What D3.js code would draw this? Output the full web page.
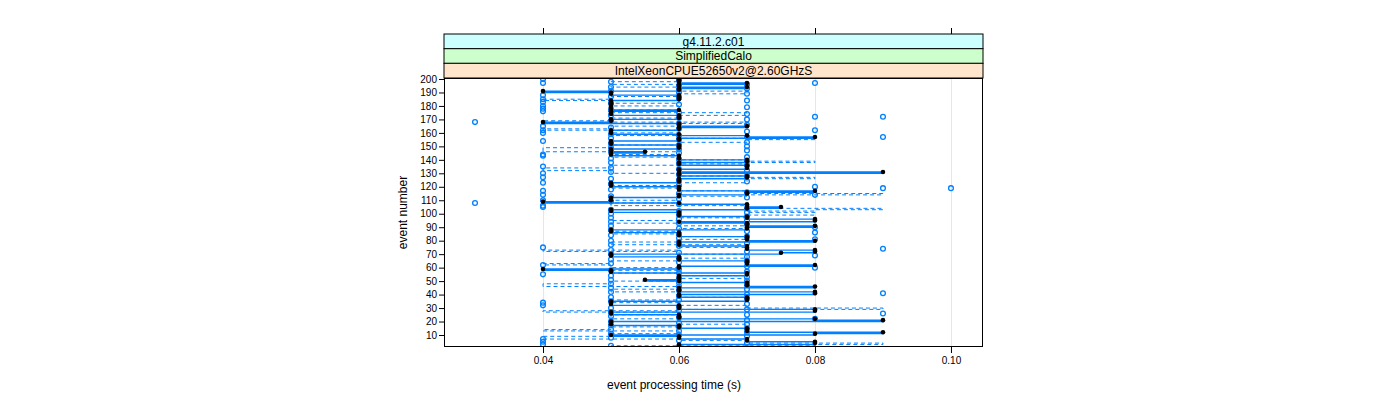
<!DOCTYPE html>
<html>
<head>
<meta charset="utf-8">
<script src="https://cdn.jsdelivr.net/npm/d3@7"></script>
<style>
  html, body { margin: 0; padding: 0; background: #ffffff; }
  svg { display: block; font-family: "Liberation Sans", Arial, sans-serif; }
</style>
</head>
<body>
<svg id="chart" width="1400" height="400"></svg>
<script>
// ---------------- data (times in milliseconds, index = event number - 1) ----------------
const stripLabels = ["g4.11.2.c01", "SimplifiedCalo", "IntelXeonCPUE52650v2@2.60GHzS"];
const xTicks = [0.04, 0.06, 0.08, 0.10];
const yTicks = [10,20,30,40,50,60,70,80,90,100,110,120,130,140,150,160,170,180,190,200];

// series drawn with solid step line and black filled points
const solidMs = [
  60,60,60,80,80,70,70,60,60,50,
  80,90,70,70,70,60,60,50,50,50,
  90,80,60,60,60,50,50,80,80,60,
  60,60,50,50,50,70,70,70,60,60,
  80,80,60,60,60,80,70,70,70,60,
  55,60,60,60,70,70,50,50,40,60,
  60,80,70,70,70,60,60,60,50,50,
  75,80,80,70,70,70,60,60,60,80,
  70,70,70,60,60,60,50,50,70,70,
  80,70,70,60,80,80,70,70,60,60,
  60,50,50,70,75,70,70,60,40,50,
  50,50,60,60,70,70,80,60,60,60,
  50,50,50,60,60,60,70,70,60,60,
  90,60,60,70,70,70,60,60,70,70,
  60,60,60,50,50,55,50,50,60,60,
  60,50,50,50,60,60,80,70,60,50,
  50,50,60,60,70,60,60,40,50,50,
  60,60,60,50,50,50,60,50,50,50,
  50,50,50,50,60,60,60,60,50,50,
  40,60,60,70,60,60,70,60,60,60
];

// series drawn with dashed step line
const dashedMs = [
  50,50,80,90,70,70,60,40,40,50,
  50,60,60,40,50,50,60,60,70,70,
  60,60,50,50,50,60,60,40,60,90,
  70,70,60,60,50,50,60,60,70,70,
  60,60,50,50,60,60,40,40,50,50,
  60,60,70,70,60,60,50,50,60,60,
  50,50,40,50,50,60,60,70,70,70,
  60,60,40,60,60,70,70,50,50,60,
  60,70,70,60,60,50,50,60,60,70,
  70,60,60,50,50,60,60,70,70,80,
  80,70,80,90,70,70,50,50,60,60,
  50,50,60,70,90,70,70,60,60,50,
  50,60,60,70,70,70,80,70,60,60,
  50,50,40,40,50,50,60,70,80,70,
  60,60,50,50,60,60,40,40,40,50,
  50,60,60,70,70,80,60,60,50,50,
  60,60,40,50,50,60,60,70,40,50,
  50,60,60,70,70,50,50,60,60,60,
  50,50,60,60,40,50,50,60,60,70,
  70,60,60,60,50,50,60,60,50,50
];

// series drawn as open circles only
const circleMs = [
  60,50,40,70,40,60,40,50,70,60,
  50,70,60,50,70,60,50,70,60,50,
  70,80,60,50,70,90,50,60,70,50,
  60,40,70,40,50,60,70,50,60,70,
  90,50,60,70,50,60,70,50,60,70,
  50,60,70,50,40,60,70,50,60,80,
  70,40,50,60,70,50,60,70,80,50,
  60,70,50,90,40,60,50,70,60,50,
  80,60,70,50,60,80,70,50,60,80,
  50,70,60,50,70,60,50,70,60,50,
  70,60,50,70,40,40,60,30,50,40,
  60,70,50,80,60,70,40,50,90,80,
  60,50,40,70,60,50,40,70,60,40,
  50,70,60,50,40,70,60,50,70,60,
  50,70,40,40,60,50,70,60,50,70,
  60,50,70,40,60,50,70,60,50,40,
  70,80,60,50,40,70,60,30,50,70,
  60,80,50,70,60,40,50,40,70,40,
  60,50,40,70,40,60,50,40,70,60,
  50,60,70,50,60,70,40,50,60,40
];

// additional isolated open circles
const extraEvents = [197, 172, 157, 119, 114, 162];
const extraMs     = [80,  90,  90,  100, 40,  40];

// ---------------- layout ----------------
const svg = d3.select("#chart");
const P = { left: 444, right: 983, top: 78, bottom: 347 };
const x = d3.scaleLinear().domain([0.02544, 0.10471]).range([P.left, P.right]);
const y = d3.scaleLinear().domain([1.09, 200.74]).range([P.bottom, P.top]);

const blue = "#0080ff";
const toPts = arr => arr.map((ms, i) => ({ t: ms / 1000, e: i + 1 }));
const solid = toPts(solidMs), dashed = toPts(dashedMs), circles = toPts(circleMs);
const extra = extraEvents.map((e, i) => ({ t: extraMs[i] / 1000, e }));

// strips
const stripTops = [34, 48.7, 63.3];
const stripH = 14.7;
const stripCols = ["#ccffff", "#ccffcc", "#ffe5cc"];
stripLabels.forEach((lab, i) => {
  svg.append("rect").attr("x", P.left).attr("y", stripTops[i]).attr("width", P.right - P.left)
    .attr("height", stripH).attr("fill", stripCols[i]).attr("stroke", "#000").attr("stroke-width", 1);
  svg.append("text").attr("x", (P.left + P.right) / 2).attr("y", stripTops[i] + stripH / 2 + 4.2)
    .attr("text-anchor", "middle").attr("font-size", 12).attr("fill", "#000").text(lab);
});

// top ticks (above strips)
svg.append("g").selectAll("line").data(xTicks).join("line")
  .attr("x1", d => Math.round(x(d)) + 0.5).attr("x2", d => Math.round(x(d)) + 0.5)
  .attr("y1", 28).attr("y2", 34).attr("stroke", "#000");

// panel grid
const plot = svg.append("g");
plot.append("g").selectAll("line").data(xTicks).join("line")
  .attr("x1", d => Math.round(x(d)) + 0.5).attr("x2", d => Math.round(x(d)) + 0.5)
  .attr("y1", P.top).attr("y2", P.bottom).attr("stroke", "#e6e6e6").attr("stroke-width", 1);

// clip
svg.append("clipPath").attr("id", "clip").append("rect")
  .attr("x", P.left).attr("y", P.top).attr("width", P.right - P.left).attr("height", P.bottom - P.top);
const inner = plot.append("g").attr("clip-path", "url(#clip)");

const line = d3.line().x(d => x(d.t)).y(d => y(d.e)).curve(d3.curveStepAfter);

inner.append("path").datum(dashed).attr("d", line).attr("fill", "none")
  .attr("stroke", blue).attr("stroke-width", 1).attr("stroke-dasharray", "4,3");
inner.append("path").datum(solid).attr("d", line).attr("fill", "none")
  .attr("stroke", blue).attr("stroke-width", 1.4);

inner.append("g").selectAll("circle").data(circles.concat(extra)).join("circle")
  .attr("cx", d => x(d.t)).attr("cy", d => y(d.e)).attr("r", 2.4)
  .attr("fill", "none").attr("stroke", blue).attr("stroke-width", 1.3);

inner.append("g").selectAll("circle").data(solid).join("circle")
  .attr("cx", d => x(d.t)).attr("cy", d => y(d.e)).attr("r", 2.3)
  .attr("fill", "#000");

// panel border
svg.append("rect").attr("x", P.left + 0.5).attr("y", P.top + 0.5)
  .attr("width", P.right - P.left - 1).attr("height", P.bottom - P.top - 1)
  .attr("fill", "none").attr("stroke", "#000").attr("stroke-width", 1);

// axes
const yAxis = d3.axisLeft(y).tickValues(yTicks).tickSize(5).tickPadding(2).tickFormat(d3.format("d"));
const gy = svg.append("g").attr("transform", `translate(${P.left},0)`).call(yAxis);
gy.select(".domain").remove();
gy.selectAll("text").attr("font-size", 10).attr("font-family", "Liberation Sans, Arial, sans-serif").attr("fill", "#000");

const xAxis = d3.axisBottom(x).tickValues(xTicks).tickSize(6).tickPadding(4).tickFormat(d3.format(".2f"));
const gx = svg.append("g").attr("transform", `translate(0,${P.bottom})`).call(xAxis);
gx.select(".domain").remove();
gx.selectAll("text").attr("font-size", 10).attr("font-family", "Liberation Sans, Arial, sans-serif").attr("fill", "#000");

// titles
svg.append("text").attr("x", 674).attr("y", 389).attr("text-anchor", "middle")
  .attr("font-size", 12).attr("fill", "#000").text("event processing time (s)");
svg.append("text").attr("transform", `translate(407,${(P.top + P.bottom) / 2}) rotate(-90)`)
  .attr("text-anchor", "middle").attr("font-size", 12).attr("fill", "#000").text("event number");
</script>
</body>
</html>
